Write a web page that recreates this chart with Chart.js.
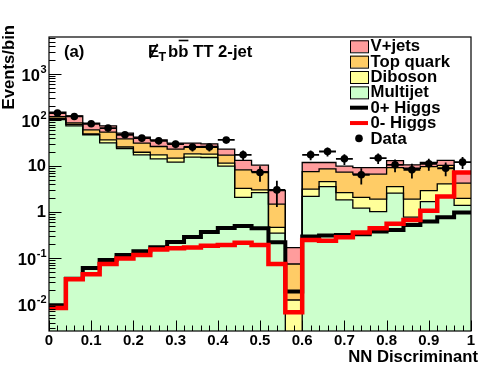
<!DOCTYPE html>
<html>
<head>
<meta charset="utf-8">
<script src="https://cdn.jsdelivr.net/npm/chart.js@4.4.1/dist/chart.umd.min.js"></script>
<style>
html,body{margin:0;padding:0;background:#ffffff;}
#wrap{width:496px;height:372px;position:relative;}
</style>
</head>
<body>
<div id="wrap"><canvas id="c" width="496" height="372"></canvas></div>
<script>
// ---------------- data ----------------
const binLow = [0.00,0.04,0.08,0.12,0.16,0.20,0.24,0.28,0.32,0.36,0.40,0.44,0.48,
                0.52,0.56,0.60,0.64,0.68,0.72,0.76,0.80,0.84,0.88,0.92,0.96];
const binWidth = 0.04;

const multijet = [103,75,48,32,24,17.6,14.4,12.2,15.7,15.4,10,2.1,2.67,0.35,0.0008,
                  2.2,3.6,1.85,1.22,1.03,2.6,0.78,1.7,2.2,1.4];
const diboson  = [5,6,2,5,2,2.4,3.2,2.8,2.8,2.9,1.6,1.2,0.38,0.12,0.0116,
                  0.96,1.0,0.82,0.88,0.89,1.0,1.14,1.25,1.9,0.6];
const topQuark = [10,6,11.5,18,13,11.6,9.1,8.4,7.5,8.4,5.7,5.0,4.55,1.02,0.0626,
                  4.44,4.1,4.73,4.6,4.78,5.7,7.08,6.85,6.3,2.27];
const vJets    = [30,37,24.5,20,13,11.1,10.6,8.2,5.6,3.8,6.1,5.0,2.9,1.46,0.095,
                  4.4,3.3,2.6,2.6,2.6,3.9,1.7,2.2,3.0,3.2];

const higgs0p  = [0.0095,0.036,0.061,0.092,0.118,0.142,0.174,0.226,0.29,0.37,0.455,0.5,0.45,0.223,0.019,
                  0.295,0.31,0.32,0.33,0.38,0.41,0.53,0.63,0.78,0.98];
const higgs0m  = [0.0083,0.035,0.045,0.075,0.099,0.118,0.155,0.165,0.172,0.187,0.195,0.218,0.195,0.075,0.0067,
                  0.25,0.24,0.286,0.36,0.45,0.56,0.68,1.08,2.2,7.3];

const dataVals = [142,120,83,67,48,40.5,35.5,30,26,26,37,17.6,7.3,3.05,null,
                  17.6,20.8,14.4,6.5,15,10.7,8.3,11.2,9.0,12.2];
const dataErr  = [12,11,9.1,8.2,6.9,6.4,6,5.5,5.1,5.1,6.1,4.2,2.7,1.75,0,
                  4.2,4.6,3.8,2.5,3.9,3.3,2.9,3.3,3.0,3.5];

const xTickValues = [0,0.1,0.2,0.3,0.4,0.5,0.6,0.7,0.8,0.9,1];
const xTickLabels = ['0','0.1','0.2','0.3','0.4','0.5','0.6','0.7','0.8','0.9','1'];
const yTickValues = [0.01,0.1,1,10,100,1000];
const yTickBase   = ['10','10','1','10','10','10'];
const yTickExp    = ['-2','-1','','','2','3'];

const legendLabels = ['V+jets','Top quark','Diboson','Multijet','0+ Higgs','0- Higgs','Data'];
const xTitle = 'NN Discriminant';
const yTitle = 'Events/bin';

// ---------------- styling ----------------
const FONT = '"Liberation Sans", Arial, Helvetica, sans-serif';
const colVJ = '#FF9C9C', colTop = '#FFCC66', colDib = '#FFFF99', colMJ = '#CCFFCC';

const xMax = 1;
function stepPoints(vals){
  const pts = binLow.map((x,i)=>({x:x, y:vals[i]}));
  pts.push({x:xMax, y:vals[vals.length-1]});
  return pts;
}

function stackDs(label, vals, color, fill){
  return {type:'line', label, data:stepPoints(vals), stack:'bkg', stepped:'before',
    borderColor:'#000', borderWidth:1.3, backgroundColor:color, pointRadius:0,
    fill:fill, order:3};
}

const datasets = [
  stackDs('Multijet', multijet, colMJ, 'start'),
  stackDs('Diboson', diboson, colDib, '-1'),
  stackDs('Top quark', topQuark, colTop, '-1'),
  stackDs('V+jets', vJets, colVJ, '-1'),
  {type:'line', label:'0+ Higgs', data:stepPoints(higgs0p), stack:'h0p', stepped:'before',
   borderColor:'#000', borderWidth:4, pointRadius:0, fill:false, order:2},
  {type:'line', label:'0- Higgs', data:stepPoints(higgs0m), stack:'h0m', stepped:'before',
   borderColor:'#FF0000', borderWidth:4.5, pointRadius:0, fill:false, order:1},
  {type:'line', label:'Data', data:binLow.map((x,i)=>({x:x+binWidth/2, y:dataVals[i]})),
   stack:'data', showLine:false, pointRadius:3.8, pointStyle:'circle',
   pointBackgroundColor:'#000', pointBorderColor:'#000', pointBorderWidth:0, order:0}
];

const rootDecor = {
  id:'rootDecor',
  beforeDatasetDraw(chart, args){
    if (args.index !== 6) return;
    const {ctx, chartArea:a, scales:{x, y}} = chart;
    ctx.save();
    ctx.beginPath(); ctx.rect(a.left, a.top, a.right-a.left, a.bottom-a.top); ctx.clip();
    ctx.strokeStyle = '#000'; ctx.lineWidth = 1.8;
    dataVals.forEach((v,i)=>{
      if (v == null) return;
      const e = dataErr[i];
      const py = y.getPixelForValue(v);
      const xc = x.getPixelForValue(binLow[i]+binWidth/2);
      ctx.beginPath();
      ctx.moveTo(x.getPixelForValue(binLow[i]), py);
      ctx.lineTo(x.getPixelForValue(binLow[i]+binWidth), py);
      const lo = (v-e) > y.min ? y.getPixelForValue(v-e) : a.bottom;
      ctx.moveTo(xc, lo);
      ctx.lineTo(xc, y.getPixelForValue(v+e));
      ctx.stroke();
    });
    ctx.restore();
  },
  afterDraw(chart){
    const {ctx, chartArea:a, scales:{x, y}} = chart;
    ctx.save();
    ctx.strokeStyle = '#000'; ctx.fillStyle = '#000';
    // ticks (inside the frame)
    ctx.lineWidth = 1;
    ctx.beginPath();
    for (let k = -3; k <= 3; k++){
      for (let m = 1; m <= 9; m++){
        const v = m*Math.pow(10,k);
        if (v < y.min || v > y.max) continue;
        const py = Math.round(y.getPixelForValue(v)) + 0.5;
        const len = (m === 1) ? 12.5 : 6.5;
        ctx.moveTo(a.left, py); ctx.lineTo(a.left+len, py);
      }
    }
    for (let i = 0; i <= 50; i++){
      const v = i*0.02;
      const px = Math.round(x.getPixelForValue(v)) + 0.5;
      const len = (i % 5 === 0) ? 10.5 : 5.5;
      ctx.moveTo(px, a.bottom); ctx.lineTo(px, a.bottom-len);
    }
    ctx.stroke();
    // frame
    ctx.lineWidth = 1.2;
    ctx.strokeRect(a.left, a.top, a.right-a.left, a.bottom-a.top);

    // x tick labels
    ctx.font = 'bold 15px ' + FONT;
    ctx.textAlign = 'center'; ctx.textBaseline = 'middle';
    xTickValues.forEach((v,i)=>{
      ctx.fillText(xTickLabels[i], x.getPixelForValue(v), 341);
    });
    // y tick labels
    const R = 46;
    yTickValues.forEach((v,i)=>{
      const py = y.getPixelForValue(v);
      const base = yTickBase[i], ex = yTickExp[i];
      ctx.textAlign = 'left'; ctx.textBaseline = 'middle';
      ctx.font = 'bold 11px ' + FONT;
      const wExp = ex ? ctx.measureText(ex).width : 0;
      ctx.font = 'bold 16.5px ' + FONT;
      const wBase = ctx.measureText(base).width;
      const bx = R - wExp - wBase;
      ctx.fillText(base, bx, ex ? py+2.5 : py+0.5);
      if (ex){
        ctx.font = 'bold 11px ' + FONT;
        ctx.fillText(ex, bx+wBase+0.5, py-4.5);
      }
    });
    // axis titles
    ctx.font = 'bold 16.7px ' + FONT;
    ctx.textAlign = 'right'; ctx.textBaseline = 'middle';
    ctx.fillText(xTitle, 478, 357);
    ctx.save();
    ctx.translate(9, 25); ctx.rotate(-Math.PI/2);
    ctx.textAlign = 'right';
    ctx.fillText(yTitle, 0, 0);
    ctx.restore();

    // panel label and channel title
    ctx.textAlign = 'left'; ctx.textBaseline = 'alphabetic';
    ctx.font = 'bold 16.7px ' + FONT;
    ctx.fillText('(a)', 64, 56.5);
    const bl = 56.5;
    ctx.fillText('E', 148, bl);
    ctx.lineWidth = 1.6;
    ctx.beginPath(); ctx.moveTo(150, bl+1.5); ctx.lineTo(157.5, bl-12.5); ctx.stroke();
    ctx.font = 'bold 12.5px ' + FONT;
    ctx.fillText('T', 158.5, bl+4);
    ctx.font = 'bold 16.7px ' + FONT;
    const wb = ctx.measureText('b').width;
    let tx = 168;
    ctx.fillText('b', tx, bl); tx += wb;
    ctx.fillText('b', tx, bl);
    ctx.lineWidth = 1.6;
    ctx.beginPath(); ctx.moveTo(tx+0.5, 40.5); ctx.lineTo(tx+wb, 40.5); ctx.stroke();
    tx += wb;
    ctx.fillText(' TT 2-jet', tx, bl);

    // legend
    const lx = 350, lw = 18, lh = 12, ty0 = 46.3, dy = 15.35;
    const boxCols = [colVJ, colTop, colDib, colMJ];
    ctx.textBaseline = 'middle';
    legendLabels.forEach((lab,i)=>{
      const cy = ty0 + i*dy;
      if (i < 4){
        ctx.fillStyle = boxCols[i];
        ctx.fillRect(lx, cy-lh/2, lw, lh);
        ctx.lineWidth = 1; ctx.strokeStyle = '#000';
        ctx.strokeRect(lx+0.5, cy-lh/2+0.5, lw, lh);
      } else if (i < 6){
        ctx.strokeStyle = (i === 4) ? '#000' : '#FF0000';
        ctx.lineWidth = 4;
        ctx.beginPath(); ctx.moveTo(lx, cy); ctx.lineTo(lx+lw, cy); ctx.stroke();
      } else {
        ctx.fillStyle = '#000';
        ctx.beginPath(); ctx.arc(lx+lw/2, cy, 3.8, 0, Math.PI*2); ctx.fill();
      }
      ctx.fillStyle = '#000';
      ctx.font = 'bold 16.7px ' + FONT;
      ctx.fillText(lab, 370.5, cy+0.5);
    });
    ctx.restore();
  }
};

new Chart(document.getElementById('c'), {
  type:'line',
  data:{datasets},
  options:{
    responsive:false,
    animation:false,
    devicePixelRatio:1,
    layout:{padding:{left:49, right:25, top:37, bottom:41}},
    scales:{
      x:{type:'linear', min:0, max:1, display:false},
      y:{type:'logarithmic', min:0.00263, max:6370, display:false, stacked:true}
    },
    plugins:{
      legend:{display:false},
      tooltip:{enabled:false},
      filler:{drawTime:'beforeDatasetsDraw', propagate:false}
    },
    elements:{line:{tension:0, borderJoinStyle:'miter', borderCapStyle:'butt'}}
  },
  plugins:[rootDecor]
});
</script>
</body>
</html>
